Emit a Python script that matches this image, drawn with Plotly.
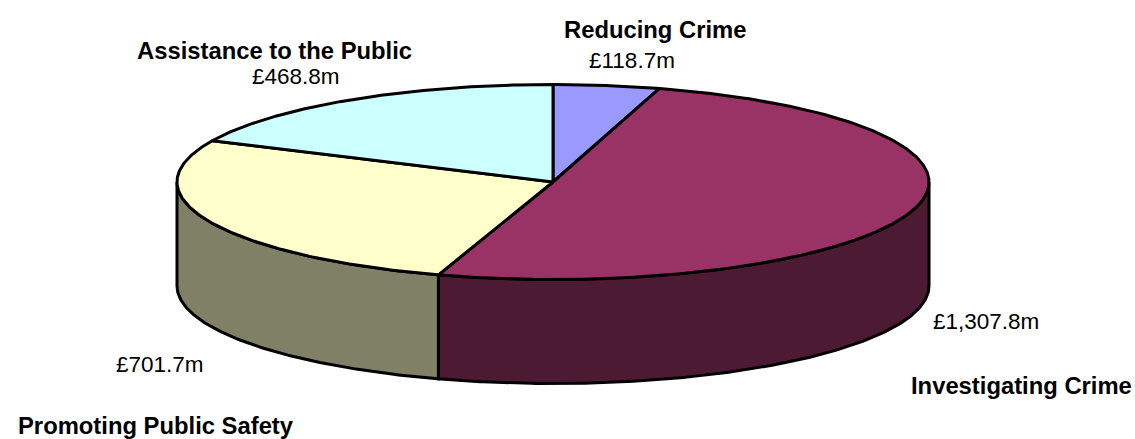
import numpy as np
import plotly.graph_objects as go

categories = ["Reducing Crime", "Investigating Crime", "Promoting Public Safety", "Assistance to the Public"]
values = [118.7, 1307.8, 701.7, 468.8]
value_labels = ["£118.7m", "£1,307.8m", "£701.7m", "£468.8m"]
top_colors = ["#9999FF", "#993366", "#FFFFCC", "#CCFFFF"]
side_colors = ["#4D4D80", "#4D1A33", "#808066", "#668080"]

# Pie geometry on a pixel-scaled pair of axes
CX, CY, RX, RY, DEPTH = 553.0, 182.0, 376.0, 97.5, 104.0
EDGE = 3.0

# Positions of the category name and the value caption for each slice
name_pos = [(654.5, 29), (1021, 385), (155.5, 425), (274.5, 50)]
value_pos = [(631.5, 60), (986, 321), (159.5, 364), (296, 76)]


def rim(a0, a1, dy=0.0):
    """Points along the ellipse between two clockwise-from-top angles, in degrees."""
    t = np.radians(np.linspace(a0, a1, max(int(abs(a1 - a0) * 2), 2) + 1))
    return CX + RX * np.sin(t), CY + dy - RY * np.cos(t)


fig = go.Figure()


def polygon(x, y, color):
    fig.add_trace(go.Scatter(
        x=x, y=y, mode="lines", fill="toself", fillcolor=color,
        line=dict(color="black", width=EDGE), hoverinfo="skip", showlegend=False,
    ))


edges = np.cumsum([0.0] + values) / sum(values) * 360.0

# Walls of the drum: only the arc facing the viewer (90 to 270 degrees) shows
for i in range(len(values)):
    a0, a1 = max(edges[i], 90.0), min(edges[i + 1], 270.0)
    if a1 <= a0:
        continue
    xt, yt = rim(a0, a1)
    xb, yb = rim(a1, a0, DEPTH)
    polygon(np.r_[xt, xb, xt[0]], np.r_[yt, yb, yt[0]], side_colors[i])

# Top face of each slice
for i in range(len(values)):
    xt, yt = rim(edges[i], edges[i + 1])
    polygon(np.r_[CX, xt, CX], np.r_[CY, yt, CY], top_colors[i])

for i, cat in enumerate(categories):
    fig.add_annotation(x=name_pos[i][0], y=name_pos[i][1], text=f"<b>{cat}</b>",
                       showarrow=False, xanchor="center", yanchor="middle",
                       font=dict(family="Liberation Sans", size=23.8, color="black"))
    fig.add_annotation(x=value_pos[i][0], y=value_pos[i][1], text=value_labels[i],
                       showarrow=False, xanchor="center", yanchor="middle",
                       font=dict(family="Liberation Sans", size=22.5, color="black"))

fig.update_layout(
    width=1135, height=439, margin=dict(l=0, r=0, t=0, b=0),
    paper_bgcolor="white", plot_bgcolor="white", showlegend=False,
    xaxis=dict(range=[0, 1135], visible=False, fixedrange=True),
    yaxis=dict(range=[439, 0], visible=False, fixedrange=True),
)
fig.write_html("out.html", config={"displayModeBar": False})
